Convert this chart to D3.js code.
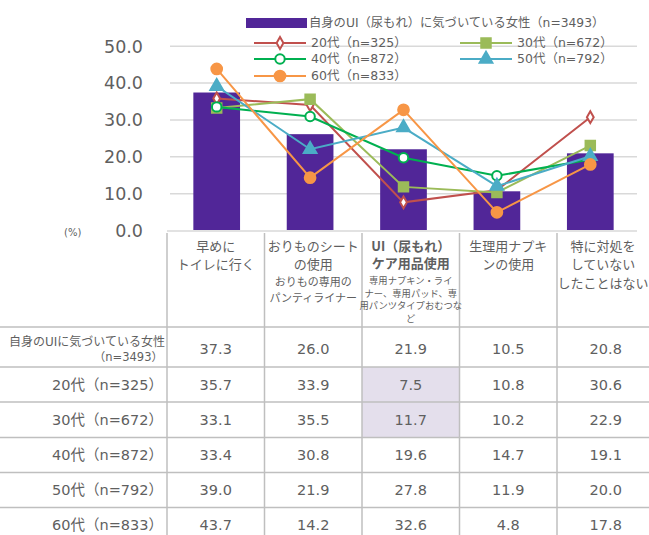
<!DOCTYPE html>
<html>
<head>
<meta charset="utf-8">
<script src="https://cdn.jsdelivr.net/npm/d3@7"></script>
<style>
  body { margin: 0; background: #fff; }
  svg text { font-family: "DejaVu Sans", "Noto Sans CJK JP", sans-serif; fill: #5f5f5f; }
  svg text.head { font-family: "Noto Sans CJK JP", sans-serif; }
</style>
</head>
<body>
<svg id="svg" width="649" height="535"></svg>
<script>
// データ
var categories = ['早めにトイレに行く', 'おりものシートの使用', 'UI（尿もれ）ケア用品使用', '生理用ナプキンの使用', '特に対処をしていないしたことはない']
var headerMain = [['早めに', 'トイレに行く'], ['おりものシート', 'の使用'], ['UI（尿もれ）', 'ケア用品使用'], ['生理用ナプキ', 'ンの使用'], ['特に対処を', 'していない', 'したことはない']]
var headerSub = [[], ['おりもの専用の', 'パンティライナー'], ['専用ナプキン・ライ', 'ナー、専用パッド、専', '用パンツタイプおむつな', 'ど'], [], []]
var barLabel = '自身のUI（尿もれ）に気づいている女性（n=3493）'
var barValues = [37.3, 26.0, 21.9, 10.5, 20.8]
var seriesNames = ['20代（n=325）', '30代（n=672）', '40代（n=872）', '50代（n=792）', '60代（n=833）']
var s20 = [35.7, 33.9, 7.5, 10.8, 30.6]
var s30 = [33.1, 35.5, 11.7, 10.2, 22.9]
var s40 = [33.4, 30.8, 19.6, 14.7, 19.1]
var s50 = [39.0, 21.9, 27.8, 11.9, 20.0]
var s60 = [43.7, 14.2, 32.6, 4.8, 17.8]
var yTicks = [0, 10, 20, 30, 40, 50]

var series = [
  { name: seriesNames[0], values: s20, color: '#C0504D', symbol: d3.symbolDiamond, size: 40, open: true },
  { name: seriesNames[1], values: s30, color: '#9BBB59', symbol: d3.symbolSquare, size: 90, open: false },
  { name: seriesNames[2], values: s40, color: '#00B050', symbol: d3.symbolCircle, size: 70, open: true },
  { name: seriesNames[3], values: s50, color: '#4BACC6', symbol: d3.symbolTriangle, size: 70, open: false },
  { name: seriesNames[4], values: s60, color: '#F79646', symbol: d3.symbolCircle, size: 90, open: false }
]

var svg = d3.select('#svg')
var x = d3.scaleBand().domain(categories).range([170, 637]).paddingInner(0.5).paddingOuter(0.25)
var y = d3.scaleLinear().domain([0, 50]).range([230, 45.7])

// グリッド
svg.append('g')
  .attr('transform', 'translate(170,0)')
  .call(d3.axisLeft(y).tickValues(yTicks.slice(1)).tickSize(-467).tickFormat(''))
  .call(function(g) {
    g.select('.domain').remove()
    g.selectAll('line').attr('stroke', '#D9D9D9').attr('stroke-width', 1.5)
  })

// Y軸
svg.append('g')
  .attr('transform', 'translate(143,0)')
  .call(d3.axisLeft(y).tickValues(yTicks).tickSize(0).tickPadding(0).tickFormat(d3.format('.1f')))
  .call(function(g) {
    g.select('.domain').remove()
    g.selectAll('text').style('font-size', '17.5px').attr('fill', '#5f5f5f').attr('dy', '0.36em')
  })

svg.append('text').attr('x', 64).attr('y', 236).style('font-size', '10px').text('(%)')

// 棒
svg.selectAll('.bar').data(barValues).enter().append('rect')
  .attr('class', 'bar')
  .attr('x', function(d, i) { return x(categories[i]) })
  .attr('width', x.bandwidth())
  .attr('y', function(d) { return y(d) })
  .attr('height', function(d) { return y(0) - y(d) })
  .attr('fill', '#512698')

// 軸線
svg.append('line').attr('x1', 167).attr('x2', 637).attr('y1', 231).attr('y2', 231)
  .attr('stroke', '#D9D9D9').attr('stroke-width', 1.5)

// 折れ線
var line = d3.line()
  .x(function(d, i) { return x(categories[i]) + x.bandwidth() / 2 })
  .y(function(d) { return y(d) })

series.forEach(function(s) {
  var g = svg.append('g')
  g.append('path').datum(s.values).attr('d', line)
    .attr('fill', 'none').attr('stroke', s.color).attr('stroke-width', 2)
  g.selectAll('path.m').data(s.values).enter().append('path')
    .attr('class', 'm')
    .attr('d', d3.symbol().type(s.symbol).size(s.size))
    .attr('transform', function(d, i) {
      return 'translate(' + (x(categories[i]) + x.bandwidth() / 2) + ',' + y(d) + ')'
    })
    .attr('fill', s.open ? '#fff' : s.color)
    .attr('stroke', s.color).attr('stroke-width', 2)
})

// 凡例
var legend = svg.append('g')
legend.append('rect').attr('x', 246).attr('y', 18).attr('width', 61).attr('height', 10).attr('fill', '#512698')
legend.append('text').attr('x', 309).attr('y', 23).attr('dy', '0.35em').style('font-size', '12.3px').text(barLabel)

var legendPos = [[254, 43], [460, 43], [254, 59], [460, 59], [254, 76]]
series.forEach(function(s, i) {
  var p = legendPos[i]
  var g = legend.append('g').attr('transform', 'translate(' + p[0] + ',' + p[1] + ')')
  g.append('line').attr('x1', 0).attr('x2', 52).attr('stroke', s.color).attr('stroke-width', 2)
  g.append('path').attr('d', d3.symbol().type(s.symbol).size(s.size))
    .attr('transform', 'translate(26,0)')
    .attr('fill', s.open ? '#fff' : s.color).attr('stroke', s.color).attr('stroke-width', 2)
  g.append('text').attr('x', 57).attr('dy', '0.35em').style('font-size', '12.5px').text(s.name)
})

// 表
var col = d3.scaleBand().domain(categories).range([167, 654.5])
var rowData = [barValues, s20, s30, s40, s50, s60]
var rowTop = [327, 367, 402, 437.5, 472.5, 507.5]
var rowH = [40, 35, 35.5, 35, 35, 35]
var highlight = [[1, 2], [2, 2]]
var gridColor = '#BFBFBF'

var table = svg.append('g')
highlight.forEach(function(h) {
  table.append('rect').attr('x', col(categories[h[1]])).attr('y', rowTop[h[0]])
    .attr('width', col.bandwidth()).attr('height', rowH[h[0]]).attr('fill', '#E4DFEC')
})

rowTop.forEach(function(t) {
  table.append('line').attr('x1', 0).attr('x2', 649).attr('y1', t).attr('y2', t)
    .attr('stroke', gridColor).attr('stroke-width', 1.5)
})
categories.forEach(function(c) {
  table.append('line').attr('x1', col(c)).attr('x2', col(c)).attr('y1', 233).attr('y2', 535)
    .attr('stroke', gridColor).attr('stroke-width', 1.5)
})

// 見出し (右端の列は画面内に収まるよう中心を少し左へ)
categories.forEach(function(c, i) {
  var cx = Math.min(col(c) + col.bandwidth() / 2, 603)
  var bold = i === 2
  headerMain[i].forEach(function(t, j) {
    table.append('text').attr('class', 'head').attr('x', cx).attr('y', 246 + j * (bold ? 17.5 : 18.7)).attr('dy', '0.35em')
      .attr('text-anchor', 'middle').style('font-size', '13px')
      .style('font-weight', bold ? 'bold' : 'normal')
      .attr('fill', bold ? '#404040' : '#5f5f5f').text(t)
  })
  var subTop = bold ? 280.5 : 282.5
  var subStep = bold ? 12.8 : 15.4
  headerSub[i].forEach(function(t, j) {
    table.append('text').attr('class', 'head').attr('x', cx).attr('y', subTop + j * subStep).attr('dy', '0.35em')
      .attr('text-anchor', 'middle').style('font-size', bold ? '9.3px' : '11px').text(t)
  })
})

// 行ラベル
table.append('text').attr('x', 165).attr('y', 341.5).attr('dy', '0.35em').attr('text-anchor', 'end')
  .style('font-size', '12px').text('自身のUIに気づいている女性')
table.append('text').attr('x', 163).attr('y', 356.5).attr('dy', '0.35em').attr('text-anchor', 'end')
  .style('font-size', '11.5px').text('（n=3493）')
seriesNames.forEach(function(n, i) {
  table.append('text').attr('x', 163).attr('y', rowTop[i + 1] + 17.5).attr('dy', '0.35em')
    .attr('text-anchor', 'end').style('font-size', '14.5px').text(n)
})

// 数値
rowData.forEach(function(r, i) {
  r.forEach(function(v, j) {
    table.append('text').attr('x', col(categories[j]) + col.bandwidth() / 2)
      .attr('y', i === 0 ? 349 : rowTop[i] + 17.5).attr('dy', '0.35em')
      .attr('text-anchor', 'middle').style('font-size', '14.5px').text(v.toFixed(1))
  })
})
</script>
</body>
</html>
